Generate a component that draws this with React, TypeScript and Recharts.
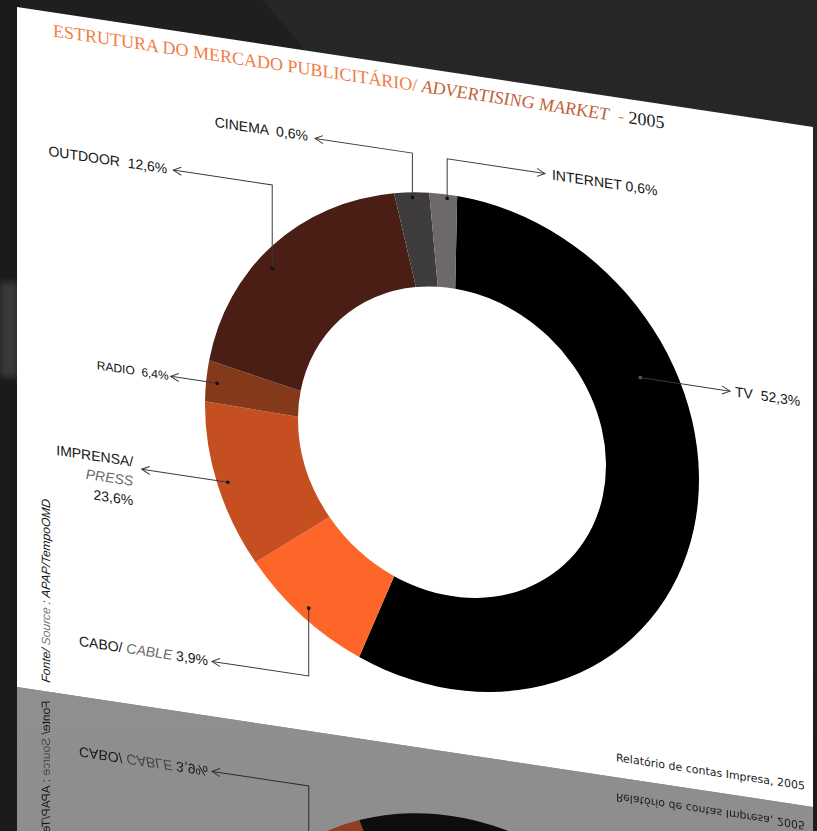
import { PieChart, Pie, Cell } from 'recharts'

const categories = ['TV', 'CABO', 'IMPRENSA', 'RADIO', 'OUTDOOR', 'CINEMA', 'INTERNET']
const drawnShares = [55.8, 8.5, 10.6, 2.7, 18.3, 2.3, 1.8]
// share as printed next to each slice
const printedShares = ['52,3%', '3,9%', '23,6%', '6,4%', '12,6%', '0,6%', '0,6%']
const sliceColors = ['#000000', '#fd6529', '#c64f22', '#85391b', '#4a1e14', '#3e3c3f', '#6c686b']

const data = categories.map((name, i) => ({ name, value: drawnShares[i] }))

const SKEW = 8.57
const PAGE_W = 796
const PAGE_H = 680
const CX = 435
const CY = 369.6
const RAD = Math.PI / 180
const SANS = 'Liberation Sans, Arial, sans-serif'

type Seg = { t: string; em?: boolean }
type LabelSpec = {
  r: number
  shift: number
  elbowY?: number
  tipX: number
  side: 'left' | 'right'
  gap: number
  size: number
  lines: { segs: Seg[]; dy: number }[]
}

const labelSpecs: LabelSpec[] = [
  { r: 210, shift: 37.9, tipX: 713, side: 'right', gap: 5, size: 14, lines: [{ segs: [{ t: `TV  ${printedShares[0]}` }], dy: 4.5 }] },
  {
    r: 236, shift: 0, elbowY: 625, tipX: 195, side: 'left', gap: 4, size: 14,
    lines: [{ segs: [{ t: 'CABO/ ' }, { t: 'CABLE', em: true }, { t: ` ${printedShares[1]}` }], dy: 4.5 }],
  },
  {
    r: 236, shift: 0, tipX: 124.7, side: 'left', gap: 8.5, size: 14,
    lines: [
      { segs: [{ t: 'IMPRENSA/' }], dy: -1.5 },
      { segs: [{ t: 'PRESS', em: true }], dy: 18 },
      { segs: [{ t: printedShares[2] }], dy: 37.5 },
    ],
  },
  { r: 236, shift: 0, tipX: 153.7, side: 'left', gap: 2, size: 12, lines: [{ segs: [{ t: `RADIO  ${printedShares[3]}` }], dy: 4 }] },
  { r: 232, shift: 4.3, elbowY: 139.5, tipX: 156.3, side: 'left', gap: 6, size: 14, lines: [{ segs: [{ t: `OUTDOOR  ${printedShares[4]}` }], dy: 4.5 }] },
  { r: 242, shift: 0, elbowY: 86.5, tipX: 298, side: 'left', gap: 7, size: 14, lines: [{ segs: [{ t: `CINEMA  ${printedShares[5]}` }], dy: 3.5 }] },
  { r: 243, shift: -0.9, elbowY: 87, tipX: 528, side: 'right', gap: 7, size: 14, lines: [{ segs: [{ t: `INTERNET ${printedShares[6]}` }], dy: 5 }] },
]

function renderLabel(props: any) {
  const index = props.index
  const spec = labelSpecs[index]
  const cx = props.cx ?? CX
  const cy = props.cy ?? CY
  const a = (props.midAngle + spec.shift) * RAD
  const px = cx + spec.r * Math.cos(a)
  const py = cy - spec.r * Math.sin(a)
  const tipY = spec.elbowY ?? py
  const pts = spec.elbowY != null ? `${px},${py} ${px},${tipY} ${spec.tipX},${tipY}` : `${px},${py} ${spec.tipX},${tipY}`
  const dir = spec.side === 'left' ? 1 : -1
  const head = `${spec.tipX + dir * 8},${tipY - 4} ${spec.tipX},${tipY} ${spec.tipX + dir * 8},${tipY + 4}`
  const tx = spec.side === 'left' ? spec.tipX - spec.gap : spec.tipX + spec.gap
  return (
    <g key={`lab-${index}`}>
      <polyline points={pts} fill="none" stroke="#3a3a3a" strokeWidth={1} />
      <polyline points={head} fill="none" stroke="#3a3a3a" strokeWidth={1} />
      <rect x={px - 1.6} y={py - 1.6} width={3.2} height={3.2} fill={index === 0 ? '#555' : '#111'} />
      {spec.lines.map((ln, k) => (
        <text
          key={k}
          x={tx}
          y={tipY + ln.dy}
          textAnchor={spec.side === 'left' ? 'end' : 'start'}
          fontSize={spec.size}
          fontFamily={SANS}
          fill="#141414"
          style={{ whiteSpace: 'pre' }}
        >
          {ln.segs.map((s, j) => (
            <tspan key={j} fontStyle={s.em ? 'italic' : 'normal'} fill={s.em ? '#6a6a6a' : '#141414'}>
              {s.t}
            </tspan>
          ))}
        </text>
      ))}
    </g>
  )
}

function Page() {
  return (
    <>
      <PieChart width={PAGE_W} height={PAGE_H} margin={{ top: 0, right: 0, bottom: 0, left: 0 }}>
        <Pie
          data={data}
          dataKey="value"
          nameKey="name"
          cx={CX}
          cy={CY}
          innerRadius={154}
          outerRadius={247}
          startAngle={88.8}
          endAngle={-271.2}
          stroke="none"
          labelLine={false}
          label={renderLabel}
          isAnimationActive={false}
        >
          {data.map((_, i) => (
            <Cell key={i} fill={sliceColors[i]} />
          ))}
        </Pie>
      </PieChart>
      <svg width={PAGE_W} height={PAGE_H} style={{ position: 'absolute', left: 0, top: 0, pointerEvents: 'none' }}>
        <text x={36} y={24} fontFamily="Liberation Serif, serif" fontSize={18} style={{ whiteSpace: 'pre' }}>
          <tspan fill="#f27c46">ESTRUTURA DO MERCADO PUBLICITÁRIO/</tspan>
          <tspan fill="#bf5f3a" fontStyle="italic"> ADVERTISING MARKET</tspan>
          <tspan fill="#f27c46">  - </tspan>
          <tspan fill="#222">2005</tspan>
        </text>
        <text transform="translate(33,671) rotate(-90)" fontFamily={SANS} fontSize={12} fontStyle="italic" fill="#141414" style={{ whiteSpace: 'pre' }}>
          Fonte/ <tspan fill="#777">Source</tspan> : APAP/TempoOMD
        </text>
        <text x={788} y={664} textAnchor="end" fontFamily="DejaVu Sans, sans-serif" fontSize={11} fill="#222">
          Relatório de contas Impresa, 2005
        </text>
      </svg>
    </>
  )
}

export default function App() {
  return (
    <div
      style={{
        position: 'absolute',
        left: 0,
        top: 0,
        width: 817,
        height: 831,
        overflow: 'hidden',
        background: 'linear-gradient(180deg, #272727 0%, #232323 55%, #1c1c1c 100%)',
      }}
    >
      {/* darker wedge top-left and dark strip left of the page */}
      <div style={{ position: 'absolute', inset: 0, background: '#1f1f1f', clipPath: 'polygon(0 0, 263px 0, 330px 80px, 0 80px)' }} />
      <div style={{ position: 'absolute', left: 0, top: 0, width: 20, height: 831, background: '#1b1b1b' }} />
      <div style={{ position: 'absolute', left: 0, top: 282, width: 18, height: 95, background: '#3a3a3a', filter: 'blur(3px)' }} />
      <div
        style={{
          position: 'absolute',
          left: 17,
          top: 7,
          width: PAGE_W,
          height: PAGE_H,
          background: '#fff',
          transformOrigin: '0 0',
          transform: `skewY(${SKEW}deg) translateY(${PAGE_H * 2}px) scaleY(-1)`,
          opacity: 0.5,
        }}
      >
        <Page />
      </div>
      <div
        style={{
          position: 'absolute',
          left: 17,
          top: 7,
          width: PAGE_W,
          height: PAGE_H,
          background: '#fff',
          transformOrigin: '0 0',
          transform: `skewY(${SKEW}deg)`,
        }}
      >
        <Page />
      </div>
    </div>
  )
}
